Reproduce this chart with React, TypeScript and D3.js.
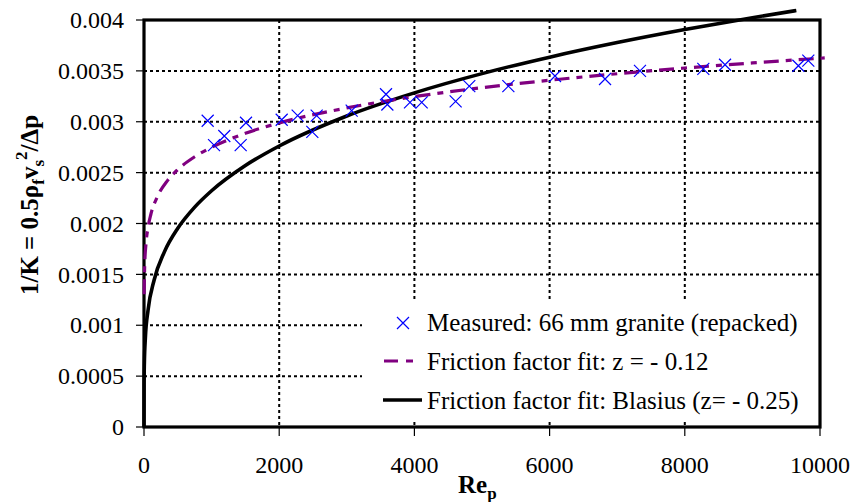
import React from "react";
import * as d3 from "d3";

// Measured points: particle Reynolds number and 1/K
const measuredRe = [942, 1036, 1188, 1430, 1509, 2037, 2273, 2490, 2554, 3072, 3580, 3600, 3935, 4108, 4610, 4812, 5390, 6080, 6820, 7337, 8274, 8595, 9680, 9827];
const measuredK = [0.00301, 0.00277, 0.00286, 0.00277, 0.00299, 0.00302, 0.00306, 0.0029, 0.00306, 0.00311, 0.00327, 0.00317, 0.00319, 0.00319, 0.0032, 0.00335, 0.00335, 0.00345, 0.00342, 0.0035, 0.00352, 0.00356, 0.00355, 0.0036];

// Friction factor fit, z = -0.12
const fitRe = [2, 10, 30, 60, 100, 200, 350, 500, 750, 1000, 1500, 2000, 3000, 4000, 5000, 6000, 7000, 8000, 9000, 10070];
const fitK = [0.001304, 0.001582, 0.001805, 0.001961, 0.002086, 0.002266, 0.002424, 0.00253, 0.002656, 0.002749, 0.002886, 0.002988, 0.003136, 0.003247, 0.003335, 0.003408, 0.003472, 0.003528, 0.003578, 0.003627];

// Blasius fit, z = -0.25
const blasiusRe = [0, 1, 5, 20, 60, 150, 300, 500, 750, 1000, 1500, 2000, 3000, 4000, 5000, 6000, 7000, 8000, 9000, 9650];
const blasiusK = [0, 0.000413, 0.000618, 0.000873, 0.001149, 0.001445, 0.001719, 0.001953, 0.002161, 0.002322, 0.00257, 0.002762, 0.003057, 0.003284, 0.003473, 0.003635, 0.003778, 0.003906, 0.004023, 0.004093];

const xTicks = [0, 2000, 4000, 6000, 8000, 10000];
const yTicks = [0, 0.0005, 0.001, 0.0015, 0.002, 0.0025, 0.003, 0.0035, 0.004];
const yTickLabels = ["0", "0.0005", "0.001", "0.0015", "0.002", "0.0025", "0.003", "0.0035", "0.004"];

const legendLabels = [
  "Measured: 66 mm granite (repacked)",
  "Friction factor fit: z = - 0.12",
  "Friction factor fit: Blasius (z= - 0.25)",
];

const FONT = "'Liberation Serif', 'Times New Roman', serif";

export default function App() {
  const left = 144, right = 820, top = 20, bottom = 427;
  const x = d3.scaleLinear().domain([0, 10000]).range([left, right]);
  const y = d3.scaleLinear().domain([0, 0.004]).range([bottom, top]);

  const line = d3
    .line<[number, number]>()
    .x((d) => x(d[0]))
    .y((d) => y(d[1]))
    .curve(d3.curveMonotoneX);

  const fitPath = line(fitRe.map((r, i) => [r, fitK[i]]) as [number, number][]) || "";
  const blasiusPath = line(blasiusRe.map((r, i) => [r, blasiusK[i]]) as [number, number][]) || "";

  const lg = { x: 362, y: 300, w: right - 362, h: 121 };

  return (
    <svg
      width={854}
      height={502}
      style={{ position: "absolute", left: 0, top: 0, background: "#fff" }}
      fontFamily={FONT}
    >
      {/* grid */}
      {yTicks.slice(1, -1).map((t) => (
        <line key={"gy" + t} x1={left} x2={right} y1={y(t)} y2={y(t)} stroke="#000" strokeWidth={2} strokeDasharray="3,3" />
      ))}
      {xTicks.slice(1, -1).map((t) => (
        <line key={"gx" + t} x1={x(t)} x2={x(t)} y1={top} y2={bottom} stroke="#000" strokeWidth={2} strokeDasharray="3,3" />
      ))}

      {/* legend background */}
      <rect x={lg.x} y={lg.y} width={lg.w} height={lg.h} fill="#fff" />

      {/* plot frame */}
      <rect x={left} y={top} width={right - left} height={bottom - top} fill="none" stroke="#000" strokeWidth={3.2} />

      {/* ticks and labels */}
      {yTicks.map((t, i) => (
        <g key={"ty" + t}>
          <line x1={left - 8} x2={left} y1={y(t)} y2={y(t)} stroke="#000" strokeWidth={1.2} />
          <text x={124} y={y(t)} dy="0.34em" textAnchor="end" fontSize={24}>
            {yTickLabels[i]}
          </text>
        </g>
      ))}
      {xTicks.map((t) => (
        <g key={"tx" + t}>
          <line x1={x(t)} x2={x(t)} y1={bottom} y2={bottom + 9} stroke="#000" strokeWidth={1.2} />
          <text x={x(t)} y={473} textAnchor="middle" fontSize={24}>
            {t}
          </text>
        </g>
      ))}

      {/* curves */}
      <path d={blasiusPath} fill="none" stroke="#000" strokeWidth={3.6} />
      <path d={fitPath} fill="none" stroke="#800080" strokeWidth={3.2} strokeDasharray="15,7,6,7" />

      {/* measured points */}
      {measuredRe.map((r, i) => {
        const cx = x(r), cy = y(measuredK[i]);
        return (
          <path key={"m" + i} d={`M${cx - 6},${cy - 6}L${cx + 6},${cy + 6}M${cx - 6},${cy + 6}L${cx + 6},${cy - 6}`} stroke="#0000ff" strokeWidth={1.2} fill="none" />
        );
      })}

      {/* legend */}
      <path d="M397,317L409,329M397,329L409,317" stroke="#0000ff" strokeWidth={1.2} />
      <text x={427} y={331} fontSize={25}>{legendLabels[0]}</text>
      <line x1={384} x2={414} y1={361} y2={361} stroke="#800080" strokeWidth={3.2} strokeDasharray="14,8,7,8" />
      <text x={427} y={370} fontSize={25}>{legendLabels[1]}</text>
      <line x1={383} x2={422} y1={400} y2={400} stroke="#000" strokeWidth={3.6} />
      <text x={427} y={409} fontSize={25}>{legendLabels[2]}</text>

      {/* axis titles */}
      <text transform="translate(38,205) rotate(-90)" textAnchor="middle" fontSize={25} fontWeight="bold">
        1/K = 0.5ρ
        <tspan fontSize={17} dy={6}>f</tspan>
        <tspan dy={-6}>v</tspan>
        <tspan fontSize={17} dy={6}>s</tspan>
        <tspan fontSize={17} dy={-17}>2</tspan>
        <tspan dy={11}>/Δp</tspan>
      </text>
      <text x={458} y={493} fontSize={25} fontWeight="bold">
        Re
        <tspan fontSize={17} dy={6}>p</tspan>
      </text>
    </svg>
  );
}
